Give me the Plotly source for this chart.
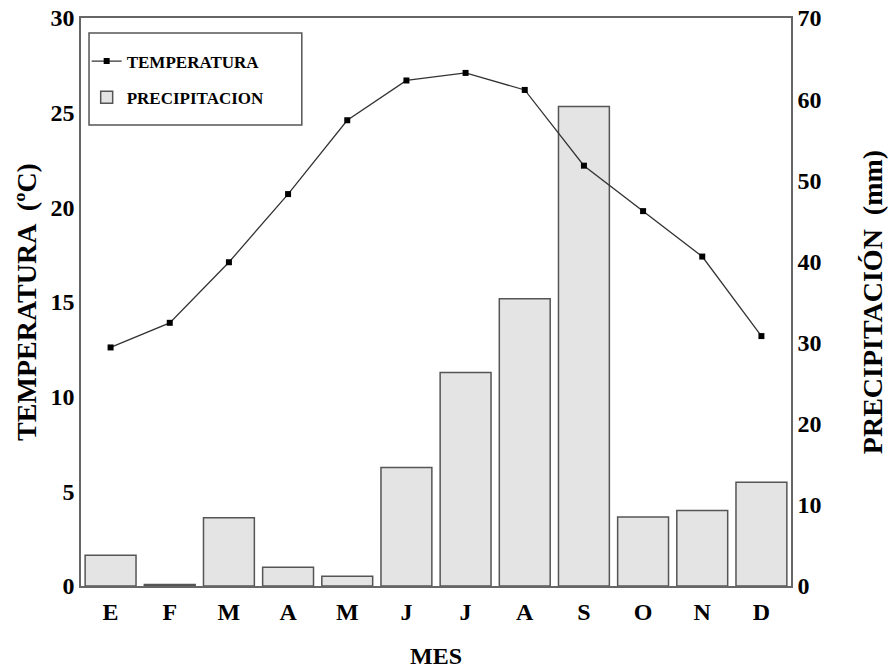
import plotly.graph_objects as go

meses = ["E", "F", "M", "A", "M", "J", "J", "A", "S", "O", "N", "D"]
temperatura = [12.6, 13.9, 17.1, 20.7, 24.6, 26.7, 27.1, 26.2, 22.2, 19.8, 17.4, 13.2]
precipitacion = [3.8, 0.2, 8.4, 2.3, 1.2, 14.6, 26.3, 35.4, 59.1, 8.5, 9.3, 12.8]
temp_ticks = [0, 5, 10, 15, 20, 25, 30]
prec_ticks = [0, 10, 20, 30, 40, 50, 60, 70]

x = list(range(len(meses)))
FONT = "Liberation Serif, Times New Roman, serif"

fig = go.Figure()
fig.add_trace(go.Scatter(
    x=x, y=temperatura, name="TEMPERATURA", yaxis="y2",
    mode="lines+markers", legendgroup="t",
    line=dict(color="#333333", width=1.3),
    marker=dict(symbol="square", size=6, color="black"),
))
fig.add_trace(go.Bar(
    x=x, y=precipitacion, name="PRECIPITACION", yaxis="y", legendgroup="p",
    marker=dict(color="#e4e4e4", line=dict(color="#555555", width=1.5)),
))

# legend frame (pixel box in the reference: x 89-302, y 33-125; plot x 81-791, y 18-586)
fig.add_shape(type="rect", xref="paper", yref="paper",
              x0=0.0113, x1=0.311, y0=0.8116, y1=0.9736,
              line=dict(color="#555555", width=1.5), fillcolor="white", layer="above")

fig.update_layout(
    width=888, height=670,
    margin=dict(l=81, r=97, t=18, b=84, autoexpand=False),
    paper_bgcolor="white", plot_bgcolor="white",
    font=dict(family=FONT, color="black", weight="bold"),
    bargap=0.14,
    showlegend=True,
    legend=dict(
        x=0.008, y=0.955, xanchor="left", yanchor="top",
        borderwidth=0, bgcolor="rgba(0,0,0,0)",
        font=dict(family=FONT, size=17, weight="bold"),
        traceorder="grouped", tracegroupgap=11, itemwidth=30,
    ),
    xaxis=dict(
        tickmode="array", tickvals=x, ticktext=meses,
        range=[-0.5, 11.5], automargin=False,
        showline=True, linecolor="#666666", linewidth=1.5, mirror=True,
        showgrid=False, ticks="", ticklabelstandoff=3,
        tickfont=dict(size=24, family=FONT, weight="bold"),
        title=dict(text="MES", font=dict(size=24, family=FONT, weight="bold"), standoff=24),
    ),
    yaxis=dict(
        side="right", range=[0, 70], automargin=False,
        tickmode="array", tickvals=prec_ticks,
        showline=True, linecolor="#666666", linewidth=1.5,
        showgrid=False, ticks="", zeroline=False,
        tickfont=dict(size=24, family=FONT, weight="bold"),
        title=dict(text="PRECIPITACIÓN  (mm)", font=dict(size=28, family=FONT, weight="bold"), standoff=42),
    ),
    yaxis2=dict(
        side="left", overlaying="y", range=[0, 30], automargin=False,
        tickmode="array", tickvals=temp_ticks,
        showline=True, linecolor="#666666", linewidth=1.5,
        showgrid=False, ticks="", zeroline=False,
        tickfont=dict(size=24, family=FONT, weight="bold"),
        title=dict(text="TEMPERATURA  (ºC)", font=dict(size=28, family=FONT, weight="bold"), standoff=6),
    ),
)

fig.write_html("out.html", config={"displayModeBar": False},
               post_script="document.body.style.margin='0px';")
